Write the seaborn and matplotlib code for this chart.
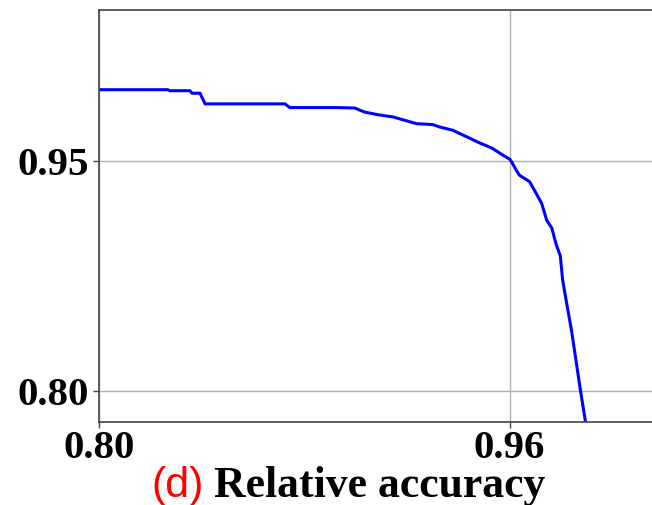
import numpy as np
import pandas as pd
import matplotlib
matplotlib.use("Agg")
import matplotlib.pyplot as plt
import matplotlib.ticker as mticker
import seaborn as sns

# curve (x: relative accuracy, y: second metric)
acc_x = [0.800, 0.8473, 0.8485, 0.8600, 0.8611, 0.8654, 0.8680, 0.9035, 0.9053,
         0.9216, 0.9266, 0.9294, 0.9330, 0.9368, 0.9397, 0.9424, 0.9459, 0.9474,
         0.9500, 0.9527, 0.9550, 0.9571, 0.9589, 0.9600, 0.9603, 0.9611, 0.9615,
         0.9630, 0.9637, 0.9647, 0.9654, 0.9661, 0.9665, 0.9667, 0.9672, 0.9675,
         0.9680, 0.9686, 0.9697, 0.9704]
acc_y = [0.9675, 0.9675, 0.9673, 0.9673, 0.9668, 0.9668, 0.9646, 0.9646, 0.9638,
         0.9638, 0.9637, 0.9628, 0.9622, 0.9617, 0.9609, 0.9601, 0.9599, 0.9593,
         0.9585, 0.9568, 0.9552, 0.9538, 0.9518, 0.9506, 0.9498, 0.9469, 0.9456,
         0.9434, 0.9404, 0.9356, 0.9286, 0.9251, 0.9196, 0.9170, 0.9114, 0.8976,
         0.8823, 0.8616, 0.8000, 0.7500]

x_ticks = [0.80, 0.96]
x_labels = ["0.80", "0.96"]
y_ticks = [0.80, 0.95]
y_labels = ["0.80", "0.95"]

df = pd.DataFrame({"x": acc_x, "y": acc_y})


def fwd(v):
    return -np.log10(np.clip(1 - np.asarray(v, dtype=float), 1e-9, None))


def inv(u):
    return 1 - 10 ** (-np.asarray(u, dtype=float))


sns.set_style("ticks")
plt.rcParams["font.family"] = ["Liberation Serif", "DejaVu Serif"]

fig = plt.figure(figsize=(6.52, 5.05), dpi=100)
ax = fig.add_axes([99 / 652, 83 / 505, 553 / 652, 412 / 505])

sns.lineplot(data=df, x="x", y="y", sort=False, color="#0000ff",
             linewidth=2.2, ax=ax)

ax.set_xscale("function", functions=(fwd, inv))
ax.set_yscale("function", functions=(fwd, inv))
ax.set_xlim(0.80, 0.9771)
ax.set_ylim(0.7590, 0.9799)

ax.xaxis.set_major_locator(mticker.FixedLocator(x_ticks))
ax.yaxis.set_major_locator(mticker.FixedLocator(y_ticks))
ax.xaxis.set_minor_locator(mticker.NullLocator())
ax.yaxis.set_minor_locator(mticker.NullLocator())
ax.set_xticklabels(x_labels)
ax.set_yticklabels(y_labels)
ax.tick_params(labelsize=29.5, length=4, width=1, color="#444444",
               labelcolor="black")
ax.tick_params(axis="x", pad=1.5)
for lab in ax.get_xticklabels() + ax.get_yticklabels():
    lab.set_fontweight("bold")

ax.grid(True, color="#b0b0b0", linewidth=1)
ax.set_xlabel("")
ax.set_ylabel("")
for side in ["left", "bottom", "top"]:
    ax.spines[side].set_color("#444444")
    ax.spines[side].set_linewidth(1.2)
ax.spines["right"].set_visible(False)

fig.text(204 / 652, 8 / 505, "(d)", color="red", fontsize=31,
         family=["Liberation Sans", "DejaVu Sans"], ha="right", va="baseline")
fig.text(214 / 652, 8 / 505, "Relative accuracy", color="black", fontsize=31.5,
         fontweight="bold", ha="left", va="baseline")

fig.savefig("out.png", dpi=100)
